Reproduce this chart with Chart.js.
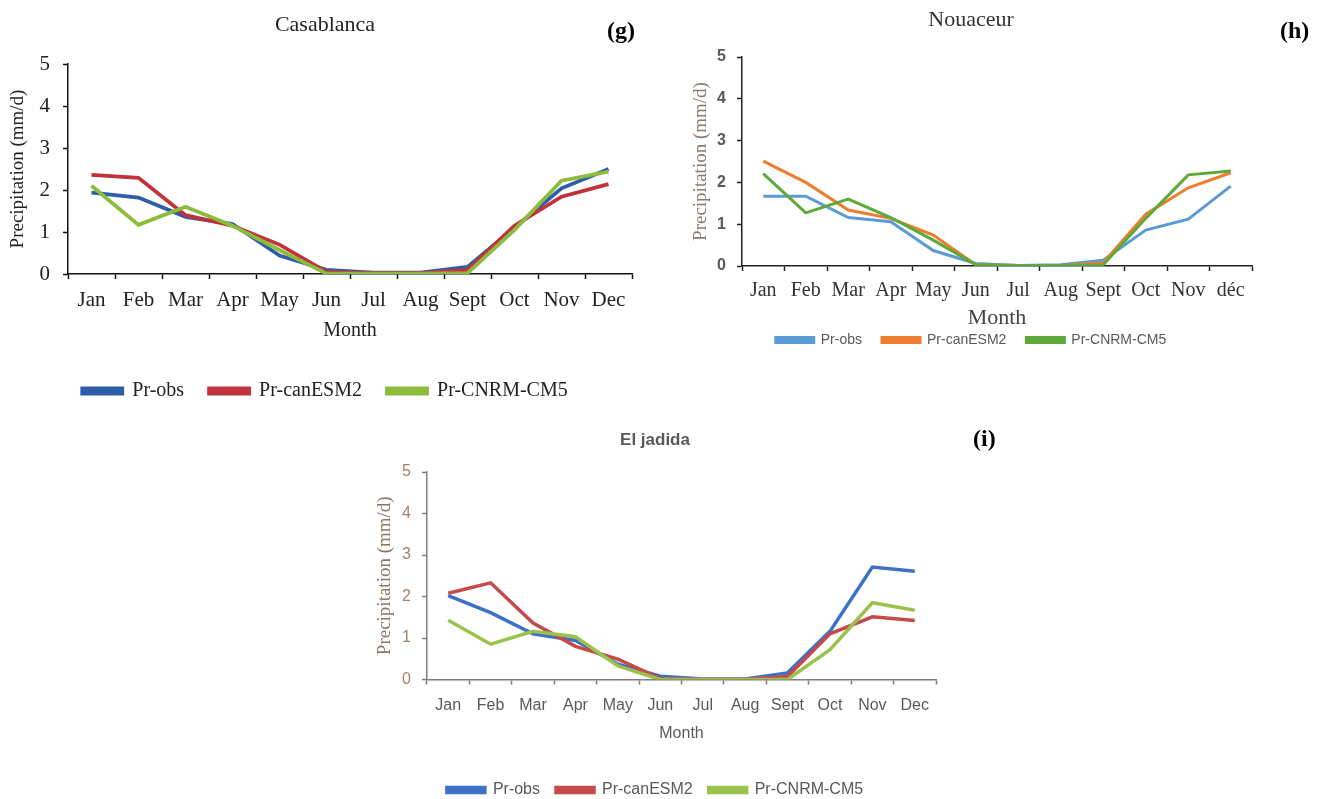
<!DOCTYPE html>
<html>
<head>
<meta charset="utf-8">
<script src="https://cdn.jsdelivr.net/npm/chart.js@4.4.1/dist/chart.umd.min.js"></script>
<style>
  html, body { margin: 0; padding: 0; background: #fff; width: 1325px; height: 799px; overflow: hidden; }
  canvas { position: absolute; }
  .tag { position: absolute; font: bold 24px "Liberation Serif", serif; color: #000; }
</style>
</head>
<body>
<canvas id="casa" width="650" height="411" style="left:0px; top:0px;"></canvas>
<canvas id="noua" width="635" height="357" style="left:690px; top:0px;"></canvas>
<canvas id="jadi" width="600" height="393" style="left:374px; top:415px;"></canvas>
<div class="tag" style="left:607px; top:17px;">(g)</div>
<div class="tag" style="left:1280px; top:17px;">(h)</div>
<div class="tag" style="left:973px; top:425px;">(i)</div>

<script>
// months on the x axis
const months = ['Jan', 'Feb', 'Mar', 'Apr', 'May', 'Jun', 'Jul', 'Aug', 'Sept', 'Oct', 'Nov', 'Dec'];
const monthsNoua = ['Jan', 'Feb', 'Mar', 'Apr', 'May', 'Jun', 'Jul', 'Aug', 'Sept', 'Oct', 'Nov', 'déc'];
const seriesNames = ['Pr-obs', 'Pr-canESM2', 'Pr-CNRM-CM5'];

// (g) Casablanca
const casaObs  = [1.94, 1.82, 1.36, 1.19, 0.44, 0.10, 0.03, 0.03, 0.17, 1.10, 2.04, 2.50];
const casaCan  = [2.36, 2.29, 1.40, 1.15, 0.70, 0.05, 0.02, 0.02, 0.10, 1.15, 1.84, 2.14];
const casaCnrm = [2.10, 1.17, 1.60, 1.15, 0.57, 0.01, 0.01, 0.01, 0.02, 1.05, 2.22, 2.44];

// (h) Nouaceur
const nouaObs  = [1.67, 1.67, 1.16, 1.06, 0.37, 0.06, 0.01, 0.03, 0.14, 0.86, 1.12, 1.91];
const nouaCan  = [2.51, 2.00, 1.34, 1.14, 0.74, 0.03, 0.01, 0.01, 0.08, 1.24, 1.87, 2.23];
const nouaCnrm = [2.21, 1.27, 1.60, 1.16, 0.62, 0.03, 0.01, 0.01, 0.03, 1.14, 2.18, 2.27];

// (i) El jadida
const jadiObs  = [2.02, 1.61, 1.10, 0.94, 0.37, 0.08, 0.01, 0.01, 0.16, 1.16, 2.71, 2.61];
const jadiCan  = [2.08, 2.33, 1.36, 0.80, 0.49, 0.02, 0.00, 0.00, 0.07, 1.10, 1.51, 1.42];
const jadiCnrm = [1.43, 0.85, 1.16, 1.03, 0.33, 0.00, 0.00, 0.00, 0.00, 0.72, 1.85, 1.67];

const yTicks = [0, 1, 2, 3, 4, 5];

function fixWidth(w) { return function (scale) { scale.width = w; }; }
function fixHeight(h) { return function (scale) { scale.height = h; }; }

function makeChart(id, labels, values, s) {
    const datasets = values.map(function (v, i) {
        return {
            label: seriesNames[i],
            data: v,
            borderColor: s.colors[i],
            backgroundColor: s.colors[i],
            borderWidth: s.lineWidth,
            pointRadius: 0,
            tension: 0,
            order: 3 - i // green on top
        };
    });

    const scales = {
        x: {
            offset: true,
            afterFit: fixHeight(s.xHeight),
            border: { color: s.axisColor, width: s.axisWidth },
            grid: { display: true, offset: true, drawOnChartArea: false, tickLength: 5, tickWidth: s.axisWidth, color: s.axisColor },
            ticks: { color: s.xTickColor, font: s.xTickFont, padding: s.xTickPad, maxRotation: 0, autoSkip: false },
            title: { display: true, text: 'Month', color: s.xTitleColor, font: s.xTitleFont, padding: { top: 0, bottom: s.xTitlePad } }
        },
        y: {
            min: 0,
            max: 5,
            afterFit: fixWidth(s.yWidth),
            afterBuildTicks: function (scale) { scale.ticks = yTicks.map(function (v) { return { value: v }; }); },
            border: { color: s.axisColor, width: s.axisWidth },
            grid: { drawOnChartArea: false, tickLength: 5, tickWidth: s.axisWidth, color: s.axisColor },
            ticks: { color: s.yTickColor, font: s.yTickFont, padding: s.yTickPad },
            title: { display: true, text: 'Precipitation (mm/d)', color: s.yTitleColor, font: s.yTitleFont, padding: { top: s.yTitlePad, bottom: 0 } }
        }
    };
    // empty strip on the right so the title and legend sit centred as in the figure
    if (s.rightGap) {
        scales.gap = {
            position: 'right',
            afterFit: fixWidth(s.rightGap),
            border: { display: false },
            grid: { display: false },
            ticks: { display: false }
        };
    }

    return new Chart(document.getElementById(id), {
        type: 'line',
        data: { labels: labels, datasets: datasets },
        options: {
            responsive: false,
            animation: false,
            layout: { padding: { left: 0, right: s.padRight, top: 0, bottom: 0 } },
            plugins: {
                tooltip: { enabled: false },
                title: {
                    display: true,
                    text: s.title,
                    color: s.titleColor,
                    font: s.titleFont,
                    padding: s.titlePad
                },
                legend: {
                    position: 'bottom',
                    labels: {
                        boxWidth: s.legendBox,
                        boxHeight: 5,
                        padding: s.legendPad,
                        color: s.legendColor,
                        font: s.legendFont,
                        sort: function (a, b) { return a.datasetIndex - b.datasetIndex; }
                    }
                }
            },
            scales: scales
        }
    });
}

const serif = '"Liberation Serif", "Times New Roman", serif';
const sans = '"Liberation Sans", Arial, sans-serif';

makeChart('casa', months, [casaObs, casaCan, casaCnrm], {
    title: 'Casablanca', titleColor: '#222', titleFont: { family: serif, size: 22, weight: 'normal' },
    titlePad: { top: 12, bottom: 25.6 },
    colors: ['#2d5fa9', '#c0333a', '#8dbb3c'], lineWidth: 3.8,
    padRight: 0, rightGap: 18, yWidth: 68, xHeight: 82,
    axisColor: '#111', axisWidth: 1.5,
    xTickColor: '#222', xTickFont: { family: serif, size: 21 }, xTickPad: 9,
    xTitleColor: '#222', xTitleFont: { family: serif, size: 20 }, xTitlePad: 13,
    yTickColor: '#222', yTickFont: { family: serif, size: 21 }, yTickPad: 13,
    yTitleColor: '#222', yTitleFont: { family: serif, size: 19 }, yTitlePad: 7,
    legendBox: 40, legendPad: 25, legendColor: '#222', legendFont: { family: serif, size: 20 }
});

makeChart('noua', monthsNoua, [nouaObs, nouaCan, nouaCnrm], {
    title: 'Nouaceur', titleColor: '#333', titleFont: { family: serif, size: 22, weight: 'normal' },
    titlePad: { top: 7.5, bottom: 23.1 },
    colors: ['#5b9bd5', '#ed7d31', '#5fa83a'], lineWidth: 3,
    padRight: 73, yWidth: 52, xHeight: 47,
    axisColor: '#222', axisWidth: 1.5,
    xTickColor: '#333', xTickFont: { family: serif, size: 20 }, xTickPad: 8,
    xTitleColor: '#444', xTitleFont: { family: serif, size: 22 }, xTitlePad: -18.5,
    yTickColor: '#595959', yTickFont: { family: sans, size: 16, weight: 'bold' }, yTickPad: 11,
    yTitleColor: '#8a7a70', yTitleFont: { family: serif, size: 19 }, yTitlePad: 0,
    legendBox: 38, legendPad: 20, legendColor: '#595959', legendFont: { family: sans, size: 14 }
});

makeChart('jadi', months, [jadiObs, jadiCan, jadiCnrm], {
    title: 'El jadida', titleColor: '#595959', titleFont: { family: sans, size: 17, weight: 'bold' },
    titlePad: { top: 14.8, bottom: 21.8 },
    colors: ['#3d71c6', '#c54a4a', '#9cc24e'], lineWidth: 3.5,
    padRight: 38, yWidth: 53, xHeight: 86.5,
    axisColor: '#7f7f7f', axisWidth: 1.5,
    xTickColor: '#595959', xTickFont: { family: sans, size: 16 }, xTickPad: 11,
    xTitleColor: '#595959', xTitleFont: { family: sans, size: 16 }, xTitlePad: 22.4,
    yTickColor: '#a0826a', yTickFont: { family: sans, size: 16 }, yTickPad: 11,
    yTitleColor: '#8b7765', yTitleFont: { family: serif, size: 19 }, yTitlePad: 0,
    legendBox: 38, legendPad: 16, legendColor: '#595959', legendFont: { family: sans, size: 16 }
});
</script>
</body>
</html>
